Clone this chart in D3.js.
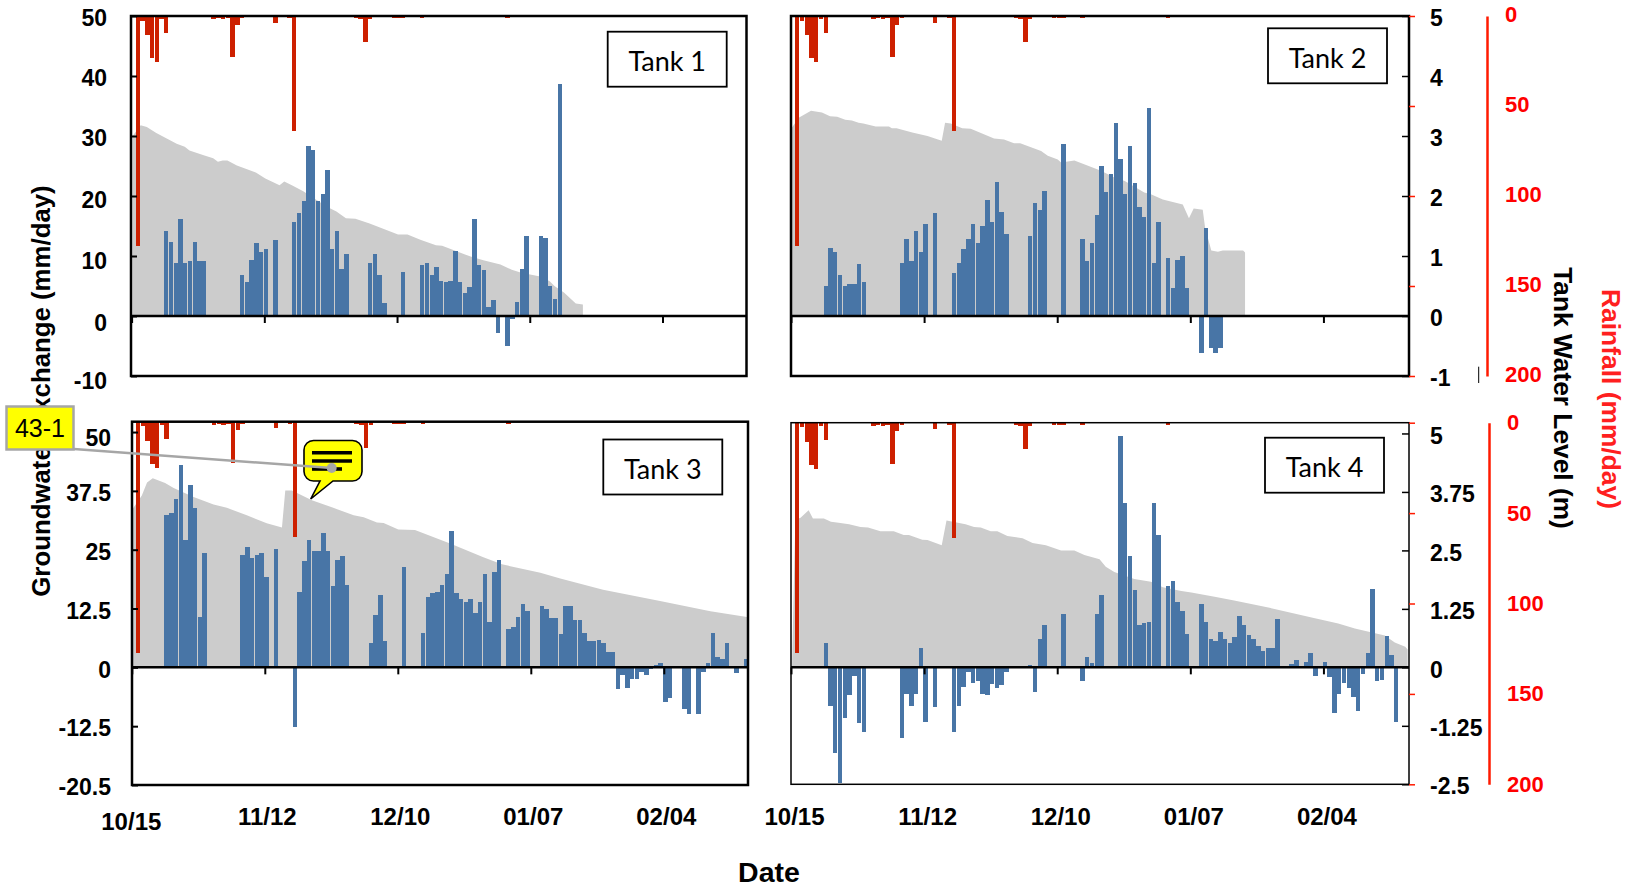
<!DOCTYPE html>
<html>
<head>
<meta charset="utf-8">
<title>Tank water balance</title>
<script src="https://d3js.org/d3.v7.min.js"></script>
<style>
  body { margin: 0; background: #fff; }
  svg text { font-family: "Liberation Sans", Arial, sans-serif; font-weight: bold; }
</style>
</head>
<body>
<div id="chart"></div>
<script>
// all "days" arrays count days since 10/15
var dateTickDays = [0, 28, 56, 84, 112];
var dateTickLabels = ["10/15", "11/12", "12/10", "01/07", "02/04"];

// rainfall (mm/day), same gauge for every tank
var rainDays = [1, 2, 3, 4, 5, 6, 7, 17, 18, 19, 20, 21, 22, 23, 30, 33, 34, 47, 48, 49, 50, 55, 56, 57, 61, 79];
var rainValues = [127.6, 2.6, 10.7, 23.5, 25.4, 1.9, 9.6, 1.9, 1.2, 1.9, 1.2, 22.6, 4.8, 1.2, 3.7, 1.2, 63.7, 1.2, 1.9, 14.6, 1.9, 1.2, 1.2, 1.2, 1.2, 1.2];

// Tank 1
var tank1Days = [7, 8, 9, 10, 11, 12, 13, 14, 15, 23, 24, 25, 26, 27, 28, 30, 34, 35, 36, 37, 38, 39, 40, 41, 42, 43, 44, 45,
  50, 51, 52, 53, 57, 61, 62, 63, 64, 65, 66, 67, 68, 69, 70, 71, 72, 73, 74, 75, 76, 77, 79, 80, 81, 82, 83, 86, 87, 88, 89, 90];
var tank1Exchange = [14.2, 12.4, 8.8, 16.2, 8.8, 9.1, 12.4, 9.1, 9.1, 6.8, 5.6, 9.4, 12.1, 10.6, 11.2, 12.7, 15.6, 17.1, 19.2, 28.3, 27.7, 19.2, 20.3, 24.4, 11.2, 14.2, 7.9, 10.3,
  8.8, 10.3, 6.8, 2.1, 7.3, 8.5, 8.8, 6.8, 8.2, 5.9, 5.6, 5.9, 10.9, 5.6, 3.8, 4.9, 16.2, 8.5, 7.7, 1.5, 2.7, -2.9, -5, -0.5, 2.3, 7.9, 13.3, 13.3, 13, 5, 2.9, 38.6];
var tank1LevelDays = [0, 1.7, 3, 5, 7.2, 9.3, 11, 12, 15, 17, 18, 19, 20, 22, 26, 28, 31, 32, 33.6, 36, 41, 43, 45, 47, 50, 56, 58, 60.7, 64, 65.3, 71.3, 74, 77.6, 80, 82, 86, 88, 89, 91, 93.5, 95];
var tank1Level = [3.0, 3.18, 3.15, 3.05, 2.96, 2.87, 2.82, 2.76, 2.68, 2.63, 2.57, 2.59, 2.59, 2.51, 2.39, 2.29, 2.18, 2.24, 2.18, 2.08, 1.82, 1.74, 1.63, 1.62, 1.54, 1.36, 1.36, 1.27, 1.18, 1.17, 0.99, 0.93, 0.86, 0.77, 0.72, 0.66, 0.58, 0.5, 0.39, 0.21, 0.19];

// Tank 2
var tank2Days = [7, 8, 9, 10, 11, 12, 13, 14, 15, 23, 24, 25, 26, 27, 28, 30, 34, 35, 36, 37, 38, 39, 40, 41, 42, 43, 44, 45, 50, 51, 52, 53, 57,
  61, 62, 63, 64, 65, 66, 67, 68, 69, 70, 71, 72, 73, 74, 75, 76, 77, 79, 80, 81, 82, 83, 86, 87, 88, 89, 90];
var tank2Exchange = [5, 11.4, 10.6, 6.8, 5, 5.3, 5.3, 8.6, 5.6, 8.8, 12.9, 9.1, 14.2, 10.6, 15.3, 17.1, 7.1, 8.8, 11.2, 12.9, 15.3, 12.1, 15, 19.4, 15.6, 22.4, 17.4, 13.6, 13.3, 18.8, 17.7, 20.9, 28.6,
  12.9, 9.1, 12.1, 16.8, 25, 20.6, 23.6, 32.1, 26.2, 20.3, 28.3, 22.1, 18.2, 16.5, 34.7, 8.8, 15.6, 9.7, 4.7, 9.4, 10, 4.7, -6.1, 14.7, -5.3, -6.1, -5.3];
var tank2LevelDays = [0, 1.5, 4, 6.3, 8, 9.5, 11.2, 12.6, 14, 15, 17.6, 20.4, 21, 22, 25.3, 28.5, 31.5, 32.2, 33.4, 35.8, 37.6, 42.5, 44.6, 46.7, 48, 52.4, 53.8, 55.9, 56.6, 59.4, 65, 67.8, 70, 74.1, 75.5, 78, 82.2, 83.5, 84.5, 86.4, 86.9, 88.2, 89.6, 90.6, 94.9, 95.3];
var tank2Level = [3.14, 3.31, 3.42, 3.39, 3.33, 3.32, 3.27, 3.26, 3.22, 3.21, 3.16, 3.16, 3.13, 3.13, 3.06, 3.0, 2.92, 3.22, 3.21, 3.13, 3.12, 2.96, 2.94, 2.88, 2.88, 2.75, 2.67, 2.61, 2.56, 2.59, 2.42, 2.31, 2.25, 2.06, 2.03, 1.94, 1.86, 1.63, 1.79, 1.77, 1.47, 1.09, 1.07, 1.09, 1.09, 1.06];

// Tank 3
var tank3Days = [7, 8, 9, 10, 11, 12, 13, 14, 15, 23, 24, 25, 26, 27, 28, 30, 34, 35, 36, 37, 38, 39, 40, 41, 42, 43, 44, 45, 50, 51, 52, 53, 57,
  61, 62, 63, 64, 65, 66, 67, 68, 69, 70, 71, 72, 73, 74, 75, 76, 77, 79, 80, 81, 82, 83, 86, 87, 88, 89, 90, 91, 92, 93, 94, 95, 96, 97, 98, 99, 100, 101,
  102, 103, 104, 105, 106, 107, 108, 109, 110, 111, 112, 113, 116, 117, 119, 120, 121, 122, 123, 124, 125, 127, 129];
var tank3Exchange = [32.3, 32.7, 35.7, 42.9, 27, 38.7, 33.8, 10.7, 24.4, 23.9, 25.5, 23.2, 23.9, 24.4, 19.1, 25.1, -12.6, 16, 22.5, 27, 24.7, 24.7, 28.5, 24.7, 17.2, 22.8, 23.6, 17.6, 5.1, 11.2, 15.3, 5.5, 21.4,
  7.4, 14.9, 15.7, 16, 17.6, 19.8, 28.9, 15.7, 14.5, 13.8, 14.5, 11.6, 13.8, 19.8, 9.7, 20.2, 22.9, 8.2, 8.5, 10.8, 13.4, 12, 13.1, 12.3, 10.5, 10.5, 7, 13.1, 13.1, 10, 10, 7.4, 5.5, 5.5, 5.9, 5.2, 3.2, 3.2,
  -4.7, -1.6, -4.3, -2.4, -2.4, -0.9, -1.6, -0.4, 0.5, 1, -7.3, -6.6, -8.8, -10, -10, -0.9, 0.9, 7.4, 2.1, 1.8, 5.2, -1.3, 1.8];
var tank3LevelDays = [0, 1.9, 3, 4.2, 6.8, 8.6, 12.8, 17, 19.8, 24, 28.2, 31.4, 32.1, 33.5, 34.9, 37.7, 42.2, 46.5, 48.6, 51.4, 52.8, 55.9, 59.4, 66.8, 73.8, 77.7, 85.8, 90, 99, 111, 121.6, 129.3, 130];
var tank3Level = [3.37, 3.65, 3.93, 4.02, 3.92, 3.81, 3.62, 3.46, 3.39, 3.23, 3.06, 2.97, 3.76, 3.76, 3.69, 3.55, 3.39, 3.23, 3.19, 3.08, 3.07, 2.93, 2.92, 2.63, 2.34, 2.19, 2.01, 1.89, 1.65, 1.41, 1.19, 1.07, 1.06];

// Tank 4
var tank4Days = [7, 8, 9, 10, 11, 12, 13, 14, 15, 23, 24, 25, 26, 27, 28, 30, 34, 35, 36, 37, 38, 39, 40, 41, 42, 43, 44, 45, 50, 51, 52, 53, 57,
  61, 62, 63, 64, 65, 69, 70, 71, 72, 73, 74, 75, 76, 77, 79, 80, 81, 82, 83, 86, 87, 88, 89, 90, 91, 92, 93, 94, 95, 96, 97, 98, 99, 100, 101, 102,
  105, 106, 108, 109, 110, 112, 113, 114, 115, 116, 117, 118, 119, 120, 121, 122, 123, 124, 125, 126, 127];
var tank4Exchange = [5.3, -8.2, -18.4, -24.8, -10.9, -5.9, -1.8, -12, -13.9, -15, -5.6, -8.2, -5.6, 4.2, -11.6, -8.5, -13.9, -8.2, -4.1, -1.1, -3.3, -2.9, -5.6, -6, -3.6, -4.4, -3.7, -1.1, 0.4, -5.2, 6.1, 9, 11.3,
  -2.9, 2.3, 0.9, 11.3, 15.5, 49.5, 35.1, 23.8, 16.6, 9, 9.4, 9.8, 35.1, 28.3, 17.4, 18.5, 14, 12.1, 7.2, 13.6, 9.8, 6.1, 5.7, 7.6, 6.1, 5.3, 6.5, 11, 9, 6.9, 6.1, 4.6, 3.4, 4.2, 4.2, 10.3,
  0.8, 1.6, 1.1, 3.1, -1.8, 1.1, -2.1, -9.7, -5.6, -3.3, -4.4, -6.3, -9.3, -1.4, 3.1, 16.7, -2.9, -2.6, 6.8, 2.6, -11.6];
var tank4LevelDays = [0, 0.7, 1.8, 3.5, 4.4, 6.7, 8.2, 9.8, 12, 14.4, 16, 18.6, 21.4, 23.5, 24.6, 27.4, 28.5, 31.5, 32.5, 36.5, 38.3, 39.7, 41.8, 43.2, 45.3, 48.5, 50.6, 53.4, 56.6, 59.4, 61.5, 64.7, 66, 67.8, 72, 75.5, 78, 81.9, 84, 88.9, 93, 101.5, 110, 114.9, 118.4, 124.7, 126.8, 129, 129.5];
var tank4Level = [0, 3.15, 3.2, 3.36, 3.18, 3.18, 3.11, 3.09, 3.06, 3.0, 2.99, 2.91, 2.91, 2.83, 2.83, 2.73, 2.72, 2.61, 3.14, 3.06, 3.0, 2.99, 2.91, 2.91, 2.81, 2.76, 2.66, 2.61, 2.5, 2.5, 2.4, 2.31, 2.15, 2.04, 1.89, 1.83, 1.71, 1.63, 1.6, 1.51, 1.43, 1.25, 1.05, 0.94, 0.83, 0.68, 0.53, 0.44, 0.38];

// axis ticks
var exchangeTicksTop = [50, 40, 30, 20, 10, 0, -10];
var exchangeTicksBottom = [50, 37.5, 25, 12.5, 0, -12.5, -25];
var exchangeLabelsBottom = ["50", "37.5", "25", "12.5", "0", "-12.5", "-20.5"];
var levelTicksTop = [5, 4, 3, 2, 1, 0, -1];
var levelTicksBottom = [5, 3.75, 2.5, 1.25, 0, -1.25, -2.5];
var rainTicks = [0, 50, 100, 150, 200];

var blue = "#4875a6", red = "#cd2000", grey = "#cccccc", axisRed = "#ff1a00";
var barWidth = 4.4, barShift = 1.5, areaShift = 1;

var svg = d3.select("#chart").append("svg")
  .attr("width", 1628)
  .attr("height", 892);

function drawPanel(p) {
  var x = d3.scaleLinear().domain([0, 130]).range([p.x0, p.x1]);
  var y = d3.scaleLinear().domain(p.yDomain).range([p.bottom, p.top]);
  var rain = d3.scaleLinear().domain([0, 200]).range([p.top, p.bottom]);
  var g = svg.append("g");

  var clipId = "clip" + p.name.replace(" ", "");
  svg.append("clipPath").attr("id", clipId).append("rect")
    .attr("x", p.left).attr("y", p.top)
    .attr("width", p.right - p.left).attr("height", p.bottom - p.top);
  var plot = g.append("g").attr("clip-path", "url(#" + clipId + ")");

  // tank level sits on the same axis, 1 m = 10 mm/day
  var area = d3.area()
    .x(function(d) { return x(d) + areaShift; })
    .y0(y(0))
    .y1(function(d, i) { return y(p.level[i] * 10); });
  plot.append("path")
    .datum(p.levelDays)
    .attr("d", area)
    .attr("fill", grey);

  plot.selectAll(".exch")
    .data(p.days)
    .enter().append("rect")
    .attr("class", "exch")
    .attr("x", function(d) { return x(d) + barShift - barWidth / 2; })
    .attr("width", barWidth)
    .attr("y", function(d, i) { return Math.min(y(p.exchange[i]), y(0)); })
    .attr("height", function(d, i) { return Math.abs(y(p.exchange[i]) - y(0)); })
    .attr("fill", blue)
    .attr("shape-rendering", "crispEdges");

  plot.selectAll(".rain")
    .data(rainDays)
    .enter().append("rect")
    .attr("class", "rain")
    .attr("x", function(d) { return x(d) + barShift - barWidth / 2; })
    .attr("width", barWidth)
    .attr("y", rain(0))
    .attr("height", function(d, i) { return rain(rainValues[i]) - rain(0); })
    .attr("fill", red)
    .attr("shape-rendering", "crispEdges");

  // frame and zero line
  g.append("rect")
    .attr("x", p.left).attr("y", p.top)
    .attr("width", p.right - p.left).attr("height", p.bottom - p.top)
    .attr("fill", "none").attr("stroke", "#000").attr("stroke-width", p.frame);
  g.append("line")
    .attr("x1", p.left).attr("x2", p.right)
    .attr("y1", y(0)).attr("y2", y(0))
    .attr("stroke", "#000").attr("stroke-width", 2.5);

  // date ticks under the zero line
  var dateTicks = g.append("g")
    .attr("transform", "translate(0," + y(0) + ")")
    .call(d3.axisBottom(x).tickValues(dateTickDays).tickSize(7).tickFormat(""));
  dateTicks.select(".domain").remove();
  dateTicks.selectAll("line").attr("stroke-width", 2);

  if (p.dateLabels) {
    var dateAxis = g.append("g")
      .attr("transform", "translate(0," + p.dateY + ")")
      .call(d3.axisBottom(x).tickValues(dateTickDays).tickSize(0).tickPadding(0)
        .tickFormat(function(d, i) { return dateTickLabels[i]; }));
    dateAxis.select(".domain").remove();
    dateAxis.selectAll("text")
      .attr("font-size", 24)
      .attr("dx", function(d) { return d === 0 ? p.firstLabelDx : p.labelDx; })
      .attr("dy", function(d) { return d === 0 ? p.firstLabelDrop : 0; })
      .attr("fill", "#000");
  }

  if (p.leftTicks) {
    var leftAxis = g.append("g")
      .attr("transform", "translate(" + p.left + ",0)")
      .call(d3.axisLeft(y).tickValues(p.leftTicks).tickSize(-6).tickPadding(p.leftPad)
        .tickFormat(function(d, i) { return p.leftLabels[i]; }));
    leftAxis.select(".domain").remove();
    leftAxis.selectAll("line").attr("stroke-width", 2);
    // the printed labels do not sit evenly on their ticks
    leftAxis.selectAll("text").attr("font-size", 23).attr("fill", "#000")
      .attr("dy", function(d, i) { return p.leftDrop[i] + 8.3; });
  }

  if (p.rightTicks) {
    var level = d3.scaleLinear()
      .domain([p.yDomain[0] / 10, p.yDomain[1] / 10])
      .range([p.bottom, p.top]);
    var rightAxis = g.append("g")
      .attr("transform", "translate(" + p.right + ",0)")
      .call(d3.axisRight(level).tickValues(p.rightTicks).tickSize(-7).tickPadding(21)
        .tickFormat(function(d) { return d; }));
    rightAxis.select(".domain").remove();
    rightAxis.selectAll("line").attr("stroke-width", 1.5);
    rightAxis.selectAll("text").attr("font-size", 23).attr("fill", "#000").attr("dy", "0.42em");

    // short red ticks of the rainfall scale on the plot edge
    var rainEdge = g.append("g")
      .attr("transform", "translate(" + p.right + ",0)")
      .call(d3.axisRight(rain).tickValues(rainTicks).tickSize(6).tickFormat(""));
    rainEdge.select(".domain").remove();
    rainEdge.selectAll("line").attr("stroke", axisRed).attr("stroke-width", 1.5);

    var rainAxis = g.append("g")
      .attr("transform", "translate(" + p.rainX + ",0)")
      .call(d3.axisRight(rain).tickValues(rainTicks).tickSize(0).tickPadding(18).tickSizeOuter(0));
    rainAxis.select(".domain").attr("stroke", axisRed).attr("stroke-width", 2.5);
    rainAxis.selectAll("text").attr("font-size", 22).attr("fill", "#ff0000").attr("dy", p.rainDy);
  }

  // tank name box
  g.append("rect")
    .attr("x", p.boxX).attr("y", p.boxY)
    .attr("width", 119).attr("height", 55)
    .attr("fill", "#fff").attr("stroke", "#000").attr("stroke-width", 1.8);
  g.append("text")
    .attr("x", p.boxX + 59.5).attr("y", p.boxY + 30)
    .attr("dy", "0.36em")
    .attr("text-anchor", "middle")
    .style("font-family", "Lato, sans-serif")
    .style("font-weight", "normal")
    .attr("font-size", 27)
    .text(p.name);
}

drawPanel({
  name: "Tank 1", days: tank1Days, exchange: tank1Exchange, levelDays: tank1LevelDays, level: tank1Level,
  left: 131, right: 746.5, top: 16, bottom: 376, x0: 131.6, x1: 747.8, yDomain: [-10, 50], frame: 2.5,
  leftTicks: exchangeTicksTop, leftLabels: exchangeTicksTop, leftDrop: [1, 1, 1, 3, 4, 5.7, 4], leftPad: 24, boxX: 607.7, boxY: 31.7
});
drawPanel({
  name: "Tank 2", days: tank2Days, exchange: tank2Exchange, levelDays: tank2LevelDays, level: tank2Level,
  left: 791, right: 1409, top: 16, bottom: 376, x0: 791, x1: 1409, yDomain: [-10, 50], frame: 2.5,
  rightTicks: levelTicksTop, rainX: 1487, rainDy: "0.26em", boxX: 1268, boxY: 28.3
});
drawPanel({
  name: "Tank 3", days: tank3Days, exchange: tank3Exchange, levelDays: tank3LevelDays, level: tank3Level,
  left: 132, right: 748, top: 421.7, bottom: 785, x0: 131.8, x1: 749.3, yDomain: [-25, 52.2], frame: 2.5,
  leftTicks: exchangeTicksBottom, leftLabels: exchangeLabelsBottom, leftDrop: [4.7, 1.7, 1.7, 1.4, 1.4, 1.4, 1.4], leftPad: 21, boxX: 603.3, boxY: 439.5,
  dateLabels: true, dateY: 824.5, firstLabelDrop: 5, firstLabelDx: -1, labelDx: 2
});
drawPanel({
  name: "Tank 4", days: tank4Days, exchange: tank4Exchange, levelDays: tank4LevelDays, level: tank4Level,
  left: 791, right: 1409, top: 422.7, bottom: 784.3, x0: 791, x1: 1409, yDomain: [-25, 52.3], frame: 1.5,
  rightTicks: levelTicksBottom, rainX: 1489, rainDy: "0.32em", boxX: 1265, boxY: 437.7,
  dateLabels: true, dateY: 824.5, firstLabelDrop: 0, firstLabelDx: 3, labelDx: 3
});

// stray mark left of the bottom of the rainfall axis
svg.append("line")
  .attr("x1", 1478.7).attr("x2", 1478.7)
  .attr("y1", 366.7).attr("y2", 383)
  .attr("stroke", "#000").attr("stroke-width", 1);

// axis titles
function sideTitle(txt, cx, cy, angle, size, fill) {
  svg.append("text")
    .attr("transform", "translate(" + cx + "," + cy + ") rotate(" + angle + ")")
    .attr("text-anchor", "middle")
    .attr("dy", "0.36em")
    .attr("font-size", size)
    .attr("fill", fill)
    .text(txt);
}
sideTitle("Groundwater Exchange (mm/day)", 41, 391, -90, 25.8, "#000");
sideTitle("Tank Water Level (m)", 1563, 398, 90, 26.3, "#000");
sideTitle("Rainfall (mm/day)", 1612, 399, 90, 26.4, "#ff1f1f");

svg.append("text")
  .attr("x", 769).attr("y", 872)
  .attr("dy", "0.36em")
  .attr("text-anchor", "middle")
  .attr("font-size", 28.5)
  .text("Date");

// review note left on the figure: tag, leader line and speech bubble
var note = svg.append("g");
note.append("path")
  .attr("d", "M304 450a9.5 9.5 0 0 1 9.5-9.5h39a9.5 9.5 0 0 1 9.5 9.5v21.5a9.5 9.5 0 0 1-9.5 9.5H333L310.7 499 320 481h-6.5a9.5 9.5 0 0 1-9.5-9.5Z")
  .attr("fill", "#ffff00").attr("stroke", "#000").attr("stroke-width", 1.6);
note.selectAll(".noteLine")
  .data([[312, 352, 452.7], [312, 352, 461], [312, 342, 469]])
  .enter().append("line")
  .attr("x1", function(d) { return d[0]; })
  .attr("x2", function(d) { return d[1]; })
  .attr("y1", function(d) { return d[2]; })
  .attr("y2", function(d) { return d[2]; })
  .attr("stroke", "#000").attr("stroke-width", 3.6);
note.append("line")
  .attr("x1", 74).attr("y1", 449).attr("x2", 331.7).attr("y2", 468)
  .attr("stroke", "#a6a6a6").attr("stroke-width", 2.5);
note.append("circle")
  .attr("cx", 331.7).attr("cy", 468).attr("r", 5)
  .attr("fill", "#a6a6a6");
note.append("rect")
  .attr("x", 6.5).attr("y", 406.5).attr("width", 67).attr("height", 43)
  .attr("fill", "#ffff00").attr("stroke", "#a6a6a6").attr("stroke-width", 2.5);
note.append("text")
  .attr("x", 40).attr("y", 428)
  .attr("dy", "0.36em")
  .attr("text-anchor", "middle")
  .style("font-weight", "normal")
  .attr("font-size", 25)
  .text("43-1");
</script>
</body>
</html>
